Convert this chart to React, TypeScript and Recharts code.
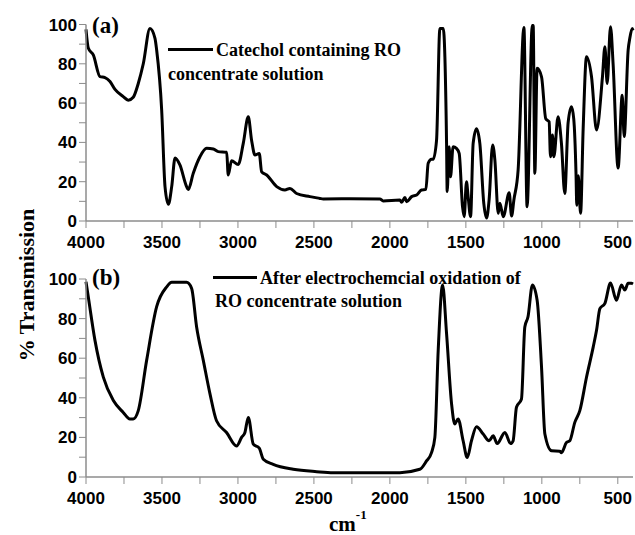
import { LineChart, Line, XAxis, YAxis } from "recharts";

// wavenumber (cm-1) and % transmission, panel (a)
const wnA = [
  4000, 3985, 3952, 3908, 3875, 3842, 3809, 3755, 3722, 3689, 3656, 3623, 3579, 3546, 3535, 3502,
  3480, 3458, 3436, 3414, 3382, 3338, 3327, 3294, 3250, 3206, 3162, 3130, 3074, 3064, 3042, 2998,
  2965, 2932, 2910, 2888, 2860, 2844, 2811, 2745, 2691, 2658, 2614, 2526, 2461, 2439, 2263, 2066,
  2044, 1934, 1923, 1901, 1890, 1857, 1824, 1792, 1763, 1748, 1726, 1715, 1693, 1671, 1649, 1627,
  1623, 1610, 1601, 1584, 1562, 1544, 1522, 1511, 1496, 1485, 1469, 1452, 1430, 1408, 1382, 1364,
  1347, 1324, 1309, 1287, 1276, 1254, 1215, 1199, 1184, 1156, 1118, 1097, 1063, 1057, 1046, 1031,
  1002, 974, 952, 943, 930, 921, 893, 871, 849, 827, 805, 790, 775, 770, 760, 745,
  728, 706, 673, 640, 601, 585, 570, 548, 531, 498, 471, 458, 432, 421, 405, 400,
];
const tA = [
  97.5, 88, 84.5, 73.5, 73, 71, 67, 63.3, 61.5, 63, 70, 80, 98, 93, 87, 56.5,
  17.5, 8.5, 17.5, 32, 28.5, 17.5, 16, 24.3, 32.7, 37, 36.6, 35.3, 35, 23.4, 30.7, 28.8,
  39.5, 53, 41, 33.6, 34.4, 25, 23.4, 17.5, 15.8, 16.6, 14, 12.4, 11.5, 11.2, 11.3, 11.2,
  10.2, 10.7, 9.5, 12, 9.8, 12.4, 13.2, 15.8, 16.1, 29.4, 31.4, 31.4, 41, 98, 98, 39.5,
  15, 37.8, 22.5, 37.8, 37, 34.4, 7.3, 2.2, 20, 12.4, 2.2, 39.5, 47, 39.5, 9, 1.5,
  10.7, 38.7, 31, 3.9, 9, 2.2, 14.4, 2.5, 10.7, 26, 98.5, 7.3, 99.5, 99.5, 24.3, 77.7,
  73.4, 52, 50.5, 32.7, 43.8, 32.7, 53, 39.5, 14, 50, 58.2, 52, 24, 8, 23, 3.9,
  47, 83.6, 73.4, 46.3, 73.4, 88.7, 70, 98.9, 80, 27, 64, 43, 87, 93, 98, 97,
];

// panel (b)
const wnB = [
  4000, 3985, 3941, 3886, 3820, 3755, 3711, 3689, 3656, 3601, 3535, 3469, 3436, 3338, 3305, 3272,
  3228, 3184, 3141, 3075, 3009, 2976, 2954, 2932, 2899, 2860, 2833, 2768, 2636, 2482, 2373, 1934,
  1803, 1759, 1726, 1704, 1682, 1653, 1627, 1594, 1573, 1551, 1518, 1491, 1463, 1430, 1386, 1347,
  1320, 1294, 1243, 1206, 1189, 1167, 1134, 1112, 1091, 1062, 1031, 1002, 980, 936, 882, 871,
  838, 816, 783, 750, 706, 662, 640, 618, 585, 548, 509, 476, 454, 432, 410, 400,
];
const tB = [
  98.6, 91, 69, 50.4, 38.6, 32.6, 29.3, 29.3, 33.5, 58.9, 86, 96, 98.3, 98.3, 95.3, 75.8,
  58.9, 42, 28.4, 22.5, 15.7, 20, 22.5, 30.1, 16.6, 14.6, 9, 6.4, 3.9, 2.7, 2.2, 2.2,
  3.9, 8.1, 12.3, 20, 64, 97, 72.4, 36.9, 26.8, 29.3, 18.3, 9.8, 18.3, 25.4, 21.7, 18.3,
  20.8, 16.9, 22.5, 16.9, 18.3, 35.2, 39.4, 75.8, 80.9, 97, 89.3, 55.5, 21.7, 13.2, 13, 12.3,
  17.4, 18.3, 27.6, 33.5, 50.4, 65.6, 74.1, 85, 87.7, 98, 89.3, 97, 94.4, 97.8, 97.8, 97.5,
];

const xTicks = [4000, 3750, 3500, 3250, 3000, 2750, 2500, 2250, 2000, 1750, 1500, 1250, 1000, 750, 500];
const yTicks = [0, 10, 20, 30, 40, 50, 60, 70, 80, 90, 100];

const dataA = wnA.map((w, i) => ({ wn: w, t: tA[i] }));
const dataB = wnB.map((w, i) => ({ wn: w, t: tB[i] }));

const axisGray = "#8c8c8c";
const tickFont = { fill: "#000", fontSize: 17, fontWeight: "bold", fontFamily: "'Liberation Sans', Arial, sans-serif" };
const serif = "'Liberation Serif', 'Times New Roman', serif";

function Panel({ data, height, top, bottom }: { data: { wn: number; t: number }[]; height: number; top: number; bottom: number }) {
  return (
    <LineChart width={635} height={height} data={data} margin={{ top, right: 2, left: 0, bottom }} style={{ overflow: "visible" }}>
      <XAxis
        type="number"
        dataKey="wn"
        domain={[400, 4000]}
        reversed
        ticks={xTicks}
        interval={0}
        tickFormatter={(v: number) => (v % 500 === 0 ? String(v) : "")}
        tick={tickFont}
        tickSize={7}
        tickMargin={8}
        height={29}
        axisLine={{ stroke: axisGray, strokeWidth: 1.5 }}
        tickLine={{ stroke: axisGray }}
      />
      <YAxis
        type="number"
        domain={[0, 100]}
        ticks={yTicks}
        interval={0}
        tickFormatter={(v: number) => (v % 20 === 0 ? String(v) : "")}
        tick={tickFont}
        tickSize={7}
        tickMargin={2}
        width={86}
        axisLine={{ stroke: axisGray, strokeWidth: 1.5 }}
        tickLine={{ stroke: axisGray }}
      />
      <Line
        type="monotone"
        dataKey="t"
        stroke="#000"
        strokeWidth={3}
        dot={false}
        isAnimationActive={false}
      />
    </LineChart>
  );
}

const txt = (extra: React.CSSProperties): React.CSSProperties => ({
  position: "absolute",
  fontFamily: serif,
  fontWeight: "bold",
  color: "#000",
  whiteSpace: "nowrap",
  lineHeight: 1,
  ...extra,
});

export default function App() {
  return (
    <div style={{ position: "absolute", left: 0, top: 0, width: 635, height: 535, background: "#fff" }}>
      <div style={{ position: "absolute", left: 0, top: 250 }}>
        <Panel data={dataB} height={285} top={29} bottom={29} />
      </div>
      <div style={{ position: "absolute", left: 0, top: 0 }}>
        <Panel data={dataA} height={265} top={24.5} bottom={15} />
      </div>

      <div style={txt({ left: 92, top: 14, fontSize: 23 })}>(a)</div>
      <div style={{ position: "absolute", left: 168, top: 48, width: 45, height: 3, background: "#000" }} />
      <div style={txt({ left: 216, top: 41, fontSize: 18 })}>Catechol containing RO</div>
      <div style={txt({ left: 168, top: 65, fontSize: 18 })}>concentrate solution</div>

      <div style={txt({ left: 92, top: 266, fontSize: 23 })}>(b)</div>
      <div style={{ position: "absolute", left: 213, top: 276, width: 44, height: 3, background: "#000" }} />
      <div style={txt({ left: 260, top: 269, fontSize: 18 })}>After electrochemcial oxidation of</div>
      <div style={txt({ left: 215, top: 292, fontSize: 18 })}>RO concentrate solution</div>

      <div
        style={txt({
          left: 27,
          top: 285,
          fontSize: 22,
          transform: "translate(-50%, -50%) rotate(-90deg)",
        })}
      >
        % Transmission
      </div>
      <div style={txt({ left: 329, top: 514, fontSize: 21 })}>
        cm<sup style={{ fontSize: 13, verticalAlign: "top", position: "relative", top: -6 }}>-1</sup>
      </div>
    </div>
  );
}
